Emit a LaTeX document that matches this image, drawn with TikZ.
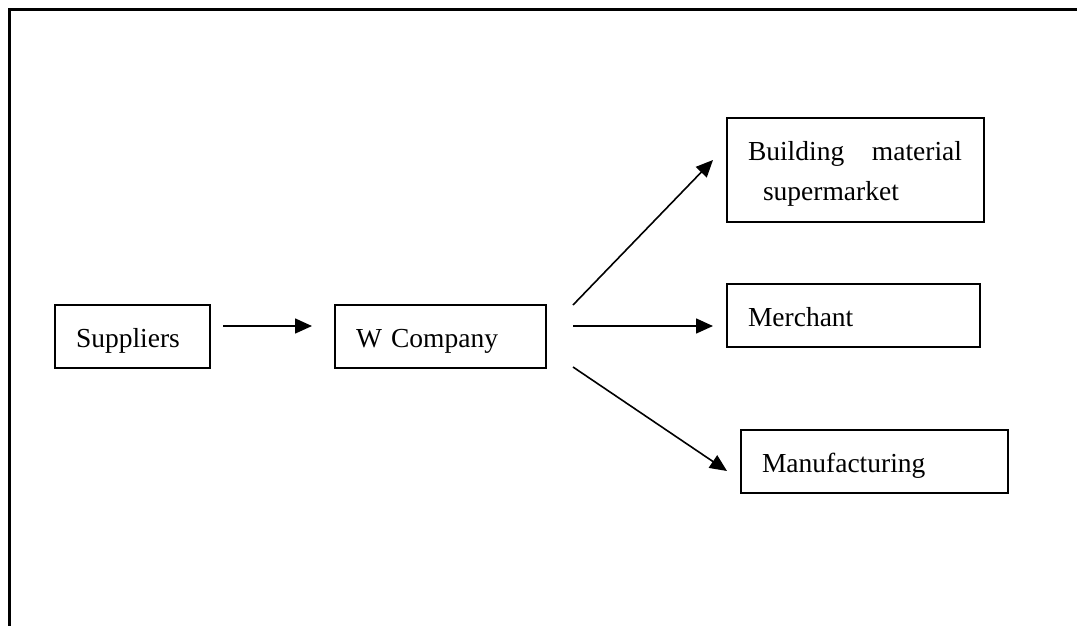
\documentclass[tikz,border=0pt]{standalone}
\usepackage{fontspec}
\setmainfont{Liberation Serif}
\usetikzlibrary{arrows.meta}
\begin{document}
\begin{tikzpicture}[x=1pt,y=-1pt,
    box/.style={draw,line width=1.8pt,inner xsep=21pt,inner ysep=0pt,align=left,
      font=\fontsize{27.5}{40}\selectfont,text height=24pt,text depth=3pt,minimum height=63pt},
    flow/.style={line width=1.6pt,-{Triangle[length=17pt,width=15pt]}}]
  \useasboundingbox (0,0) rectangle (1077,625);
  \draw[line width=2.5pt] (9.5,630) -- (9.5,9.5) -- (1082,9.5);
  \node[box,text width=113pt] (sup) at (132.5,336.5) {Suppliers};
  \node[box,text width=169pt] (wco) at (440.5,336.5) {W Company};
  \node[box,text width=215pt,text depth=43pt,minimum height=104pt] (bms) at (855.5,170)
    {\hbox to 214pt{Building\hfill material}\\\hspace*{15pt}supermarket};
  \node[box,text width=211pt] (mer) at (853.5,315.5) {Merchant};
  \node[box,text width=225pt] (man) at (874.5,461.5) {Manufacturing};
  \coordinate (sup-out) at (223,326);
  \coordinate (wco-in) at (312,326);
  \coordinate (wco-out1) at (573,305);
  \coordinate (wco-out2) at (573,326);
  \coordinate (wco-out3) at (573,367);
  \coordinate (bms-in) at (713,160);
  \coordinate (mer-in) at (713,326);
  \coordinate (man-in) at (727,471);
  \begin{scope}[flow]
    \draw (sup-out) to (wco-in);
    \draw (wco-out1) to (bms-in);
    \draw (wco-out2) to (mer-in);
    \draw (wco-out3) to (man-in);
  \end{scope}
\end{tikzpicture}
\end{document}
